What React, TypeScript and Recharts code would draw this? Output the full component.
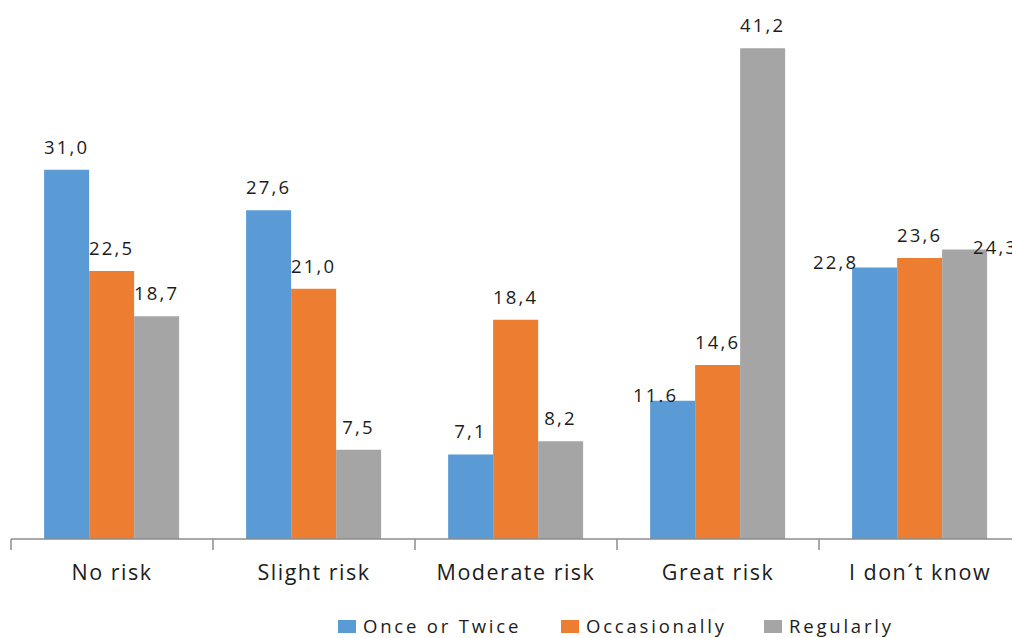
import React from 'react';
import { BarChart, Bar, XAxis, YAxis, LabelList } from 'recharts';

const categories = ['No risk', 'Slight risk', 'Moderate risk', 'Great risk', 'I don\u00b4t know'];
const onceOrTwice = [31.0, 27.6, 7.1, 11.6, 22.8];
const occasionally = [22.5, 21.0, 18.4, 14.6, 23.6];
const regularly = [18.7, 7.5, 8.2, 41.2, 24.3];
const onceLabels = ['31,0', '27,6', '7,1', '11.6', '22,8'];
const occasionallyLabels = ['22,5', '21,0', '18,4', '14,6', '23,6'];
const regularlyLabels = ['18,7', '7,5', '8,2', '41,2', '24,3'];

const BLUE = '#5B9BD5';
const ORANGE = '#ED7D31';
const GRAY = '#A5A5A5';
const AXIS = '#8c8c8c';
const FONT = '"Open Sans", sans-serif';
const TEXT = '#1c1c1c';

// a few labels were moved by hand in the original
const labelNudge: Record<string, [number, number]> = {
  'once-3': [-17, 17],
  'once-4': [-39, 18],
  'regularly-4': [31, 20],
};

const data = categories.map((name, i) => ({
  name,
  once: onceOrTwice[i],
  occasionally: occasionally[i],
  regularly: regularly[i],
}));

const makeLabel = (key: string, labels: string[]) => (props: any) => {
  const { x, y, width, index } = props;
  const [dx, dy] = labelNudge[`${key}-${index}`] || [0, 0];
  return (
    <text
      x={x + width / 2 + dx}
      y={y - 16 + dy}
      textAnchor="middle"
      fontFamily={FONT}
      fontSize={18.5}
      letterSpacing={2.2}
      fill={TEXT}
    >
      {labels[index]}
    </text>
  );
};

// category label plus tick marks on the category borders
const CategoryTick = (props: any) => {
  const { x, y, payload, index, width, visibleTicksCount } = props;
  const half = width / visibleTicksCount / 2;
  return (
    <g>
      <line x1={x - half} x2={x - half} y1={y} y2={y + 11} stroke={AXIS} strokeWidth={1.5} />
      {index === visibleTicksCount - 1 && (
        <line x1={x + half} x2={x + half} y1={y} y2={y + 11} stroke={AXIS} strokeWidth={1.5} />
      )}
      <text x={x} y={y + 41} textAnchor="middle" fontFamily={FONT} fontSize={21.5} letterSpacing={1.5} fill={TEXT}>
        {payload.value}
      </text>
    </g>
  );
};

const legendItems = [
  { label: 'Once or Twice', color: BLUE, left: 338 },
  { label: 'Occasionally', color: ORANGE, left: 561 },
  { label: 'Regularly', color: GRAY, left: 764 },
];

export default function App() {
  return (
    <div style={{ position: 'absolute', left: 0, top: 0, width: 1012, height: 638, overflow: 'hidden', background: '#fff' }}>
      <BarChart
        width={1030}
        height={600}
        data={data}
        margin={{ top: 3, right: 9, left: 11, bottom: 11 }}
        barCategoryGap="16.4%"
        barGap={0}
      >
        <XAxis
          dataKey="name"
          height={50}
          axisLine={{ stroke: AXIS, strokeWidth: 1.5 }}
          tickLine={false}
          tickSize={0}
          tickMargin={0}
          tick={<CategoryTick />}
          interval={0}
        />
        <YAxis hide domain={[0, 45]} />
        <Bar dataKey="once" fill={BLUE} isAnimationActive={false}>
          <LabelList dataKey="once" content={makeLabel('once', onceLabels)} />
        </Bar>
        <Bar dataKey="occasionally" fill={ORANGE} isAnimationActive={false}>
          <LabelList dataKey="occasionally" content={makeLabel('occasionally', occasionallyLabels)} />
        </Bar>
        <Bar dataKey="regularly" fill={GRAY} isAnimationActive={false}>
          <LabelList dataKey="regularly" content={makeLabel('regularly', regularlyLabels)} />
        </Bar>
      </BarChart>
      {legendItems.map((item) => (
        <div key={item.label} style={{ position: 'absolute', left: item.left, top: 611, height: 30, display: 'flex', alignItems: 'center' }}>
          <span style={{ display: 'inline-block', width: 18, height: 13, background: item.color, marginRight: 7 }} />
          <span style={{ fontFamily: FONT, fontSize: 18.5, letterSpacing: 2.8, color: TEXT, lineHeight: '30px' }}>{item.label}</span>
        </div>
      ))}
    </div>
  );
}
